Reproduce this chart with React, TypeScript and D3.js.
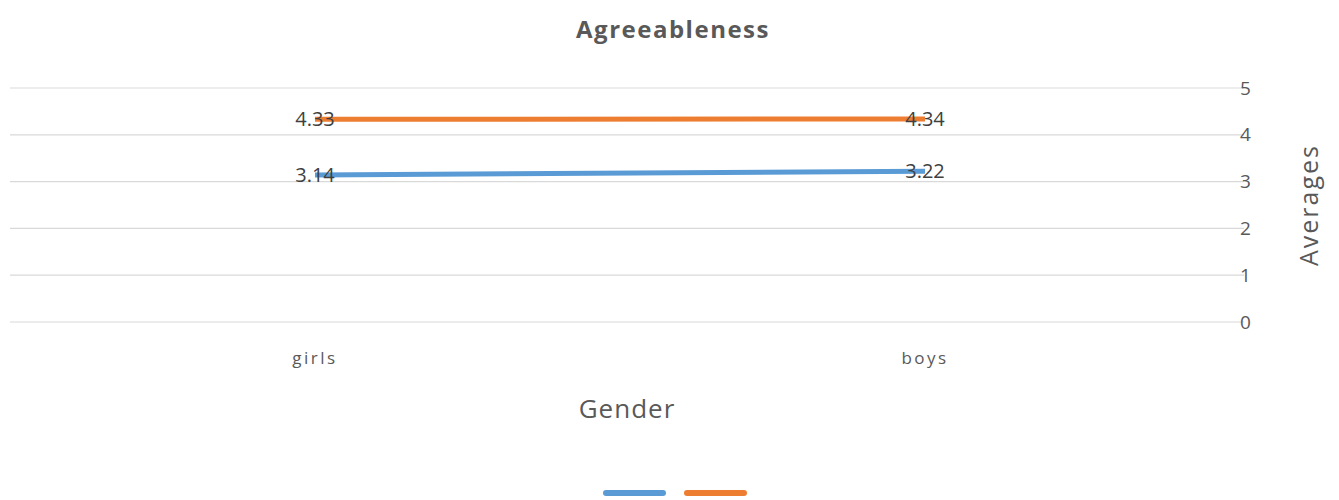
import React from 'react';
import * as d3 from 'd3';

const categories = ['girls', 'boys'];
const seriesA = [3.14, 3.22];
const seriesB = [4.33, 4.34];
const yTicks = [0, 1, 2, 3, 4, 5];

const W = 1339;
const H = 500;
const font = "'Open Sans', 'Noto Sans', sans-serif";

const App: React.FC = () => {
  const x = d3.scaleBand<string>().domain(categories).range([10, 1230]);
  const y = d3.scaleLinear().domain([0, 5]).range([322, 88]);
  const cx = (c: string) => (x(c) ?? 0) + x.bandwidth() / 2;
  const line = d3.line<number>().x((_, i) => cx(categories[i])).y(d => y(d));

  const series = [
    { values: seriesA, color: '#5B9BD5' },
    { values: seriesB, color: '#ED7D31' },
  ];

  return (
    <svg width={W} height={H} style={{ position: 'absolute', left: 0, top: 0, background: '#fff' }}>
      <text x={673} y={38} textAnchor="middle" fontFamily={font} fontWeight="bold" fontSize={24} letterSpacing={1.5} fill="#595959">
        Agreeableness
      </text>
      {yTicks.map(t => (
        <g key={t}>
          <line x1={10} x2={1244} y1={y(t)} y2={y(t)} stroke="#d9d9d9" strokeWidth={1.2} />
          <text x={1240} y={y(t)} dy="0.35em" fontFamily={font} fontSize={19} fill="#595959">{t}</text>
        </g>
      ))}
      <text transform={`translate(1318,${205}) rotate(-90)`} textAnchor="middle" fontFamily={font} fontSize={25} letterSpacing={2} fill="#595959">
        Averages
      </text>
      {categories.map(c => (
        <text key={c} x={cx(c)} y={358} dy="0.35em" textAnchor="middle" fontFamily={font} fontSize={17} letterSpacing={2.5} fill="#595959">{c}</text>
      ))}
      <text x={627} y={409} dy="0.35em" textAnchor="middle" fontFamily={font} fontSize={26} letterSpacing={1} fill="#595959">Gender</text>
      {series.map((s, k) => (
        <path key={k} d={line(s.values) ?? ''} fill="none" stroke={s.color} strokeWidth={5} />
      ))}
      {series.map((s, k) =>
        s.values.map((v, i) => (
          <text key={`${k}-${i}`} x={cx(categories[i])} y={y(v)} dy="0.35em" textAnchor="middle" fontFamily={font} fontSize={20} fill="#404040">
            {v.toFixed(2)}
          </text>
        ))
      )}
      {series.map((s, k) => (
        <line key={k} x1={606 + k * 81} x2={663 + k * 81} y1={493} y2={493} stroke={s.color} strokeWidth={6} strokeLinecap="round" />
      ))}
    </svg>
  );
};

export default App;
